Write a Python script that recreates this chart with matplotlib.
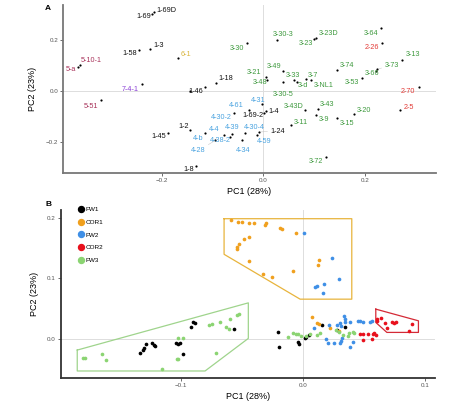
import matplotlib
matplotlib.use("Agg")
import matplotlib.pyplot as plt
from matplotlib.lines import Line2D

plt.rcParams['font.family'] = ['Liberation Sans', 'DejaVu Sans']

# ---- panel A: labelled PCA scores ----
a_labels = ['1-69D', '1-69', '1-3', '1-58', '6-1', '5-10-1', '5-a', '7-4-1', '1-46', '',
            '1-18', '5-51', '3-30', '3-30-3', '3-23D', '3-23', '3-64', '2-26', '3-13', '3-73',
            '3-66', '3-53', '3-74', '3-49', '3-21', '3-48', '3-30-5', '3-33', '3-7', '3-d',
            '3-NL1', '2-70', '2-5', '3-20', '3-43D', '3-43', '3-9', '3-15', '3-11', '3-72',
            '1-4', '1-69-2', '1-24', '4-30-4', '4-59', '4-34', '4-39', '4-4', '4-38-2', '4-b',
            '4-28', '4-30-2', '4-61', '4-31', '1-2', '1-45', '1-8']
a_group = ['1', '1', '1', '1', '6', '5', '5', '7', '1', '1',
           '1', '5', '3', '3', '3', '3', '3', '2', '3', '3',
           '3', '3', '3', '3', '3', '3', '3', '3', '3', '3',
           '3', '2', '2', '3', '3', '3', '3', '3', '3', '3',
           '1', '1', '1', '4', '4', '4', '4', '4', '4', '4',
           '4', '4', '4', '4', '1', '1', '1']
a_pc1 = [-0.215, -0.219, -0.222, -0.245, -0.168, -0.360, -0.364, -0.239, -0.145, -0.115,
         -0.092, -0.319, -0.032, 0.027, 0.104, 0.100, 0.232, 0.234, 0.274, 0.224,
         0.222, 0.195, 0.145, 0.039, 0.006, 0.008, 0.039, 0.061, 0.085, 0.066,
         0.094, 0.306, 0.270, 0.179, 0.083, 0.107, 0.104, 0.146, 0.055, 0.123,
         0.006, 0.002, -0.009, -0.035, -0.012, -0.042, -0.062, -0.077, -0.065, -0.114,
         -0.094, -0.058, -0.028, -0.002, -0.144, -0.188, -0.132]
a_pc2 = [0.309, 0.302, 0.165, 0.161, 0.131, 0.102, 0.094, 0.027, 0.002, 0.017,
         0.033, -0.036, 0.189, 0.200, 0.209, 0.202, 0.248, 0.189, 0.122, 0.085,
         0.080, 0.052, 0.082, 0.078, 0.054, 0.045, 0.035, 0.043, 0.048, 0.037,
         0.043, 0.015, -0.075, -0.090, -0.075, -0.068, -0.094, -0.107, -0.133, -0.258,
         -0.076, -0.086, -0.160, -0.164, -0.170, -0.192, -0.169, -0.173, -0.178, -0.165,
         -0.192, -0.087, -0.072, -0.051, -0.153, -0.162, -0.293]

# label placement (pixels from the point), like ggrepel put them
a_offsets = {
    '1-69D': (12, 1.6), '1-69': (-8, -2.7), '1-3': (8, 3), '1-58': (-9.4, -4),
    '6-1': (7.6, 2.7), '5-10-1': (11.3, 5), '5-a': (-7, -2.3), '7-4-1': (-11.4, -5.3),
    '1-46': (6, -1.2), '1-18': (9.7, 3.7), '5-51': (-10.4, -5.7), '3-30': (-9.7, -5.6),
    '3-30-3': (6.6, 5), '3-23D': (12.3, 4.4), '3-23': (-8, -3.8), '3-64': (-10, -5.6),
    '2-26': (-10, -5), '3-13': (10.5, 5), '3-73': (14.5, 4.3), '3-66': (-4, -3),
    '3-53': (-10, -5), '3-74': (10, 4.3), '3-49': (-9.4, 5), '3-21': (-11.8, 4.6),
    '3-48': (-7, -3.2), '3-30-5': (0, -12), '3-33': (-1, 5), '3-7': (7, 3.7),
    '3-d': (6, -4), '3-NL1': (13, -5.7), '2-70': (-10.4, -4.7), '2-5': (8, 2.7),
    '3-20': (9.7, 3.3), '3-43D': (-12, 4.3), '3-43': (9.7, 4.3), '3-9': (7.7, -4.3),
    '3-15': (9.7, -5), '3-11': (9.3, 2.7), '3-72': (-10.2, -4.3), '1-4': (7.5, -0.6),
    '1-69-2': (-11.7, -2.7), '1-24': (19, 1), '4-30-4': (8.5, 6), '4-59': (6.6, -6.4),
    '4-34': (1.6, -10), '4-39': (0.4, 6.7), '4-4': (-9.7, 5.7), '4-38-2': (-9.5, -3.5),
    '4-b': (-6.7, -4.7), '4-28': (-17.3, -10.7), '1-2': (-6.7, 3.3), '1-45': (-9.4, -4.4),
    '1-8': (-7.7, -3.3), '4-30-2': (-12.5, -4), '4-61': (-12.3, 4.3), '4-31': (-3.7, 4),
}
a_colors = {'1': '#111111', '2': '#e23a36', '3': '#3f9a3f', '4': '#4aa3e0',
            '5': '#a8325a', '6': '#d9b53c', '7': '#8a3fd6'}

# ---- panel B: groups ----
fw1_x = [-0.1336, -0.1308, -0.1300, -0.1286, -0.1234, -0.1221, -0.1212, -0.1040, -0.1021, -0.1007,
         -0.0985, -0.0920, -0.0903, -0.0884, -0.0561, -0.0200, -0.0192, -0.0041, -0.0030, 0.0019,
         0.0027, 0.0055, 0.0156, 0.0279, 0.0348]
fw1_y = [-0.0245, -0.0190, -0.0162, -0.0096, -0.0080, -0.0107, -0.0124, -0.0080, -0.0091, -0.0080,
         -0.0256, 0.0184, 0.0267, 0.0250, 0.0157, 0.0113, -0.0135, -0.0063, -0.0091, 0.0003,
         0.0030, 0.0058, 0.0223, 0.0140, 0.0184]

cor1_x = [-0.0589, -0.0529, -0.0501, -0.0441, -0.0400, -0.0301, -0.0310, -0.0186, -0.0167, -0.0057,
          -0.0441, -0.0482, -0.0523, -0.0537, -0.0542, -0.0441, -0.0328, -0.0250, -0.0082, 0.0136,
          0.0128, 0.0079, 0.0120, 0.0137, 0.0224, 0.0293]
cor1_y = [0.1967, 0.1922, 0.1922, 0.1917, 0.1917, 0.1917, 0.1873, 0.1828, 0.1818, 0.1752,
          0.1686, 0.1642, 0.1563, 0.1510, 0.1477, 0.1279, 0.1076, 0.1015, 0.1119, 0.1307,
          0.1213, 0.0349, 0.0250, 0.0234, 0.0168, 0.0129]

fw2_x = [0.0011, 0.0238, 0.0298, 0.0177, 0.0120, 0.0101, 0.0169, 0.0096, 0.0211, 0.0279,
         0.0307, 0.0342, 0.0348, 0.0348, 0.0389, 0.0452, 0.0471, 0.0493, 0.0553, 0.0567,
         0.0192, 0.0205, 0.0260, 0.0307, 0.0320, 0.0315, 0.0389, 0.0411, 0.0315]
fw2_y = [0.1752, 0.1340, 0.0982, 0.0911, 0.0866, 0.0855, 0.0746, 0.0179, 0.0223, 0.0223,
         0.0250, 0.0371, 0.0316, 0.0278, 0.0278, 0.0289, 0.0289, 0.0278, 0.0278, 0.0289,
         -0.0014, -0.0080, -0.0080, -0.0069, 0.0003, -0.0041, -0.0135, -0.0052, 0.0206]

cor2_x = [0.0471, 0.0493, 0.0531, 0.0493, 0.0567, 0.0580, 0.0588, 0.0602, 0.0608, 0.0608,
          0.0643, 0.0676, 0.0695, 0.0736, 0.0750, 0.0766, 0.0868, 0.0895]
cor2_y = [0.0069, 0.0069, 0.0074, -0.0025, -0.0008, 0.0074, 0.0096, 0.0058, 0.0294, 0.0316,
          0.0333, 0.0250, 0.0179, 0.0278, 0.0261, 0.0267, 0.0129, 0.0239]

fw3_x = [-0.1801, -0.1788, -0.1650, -0.1615, -0.1158, -0.1034, -0.1021, -0.1026, -0.0985, -0.0714,
         -0.0766, -0.0747, -0.0679, -0.0597, -0.0536, -0.0520, -0.0629, -0.0602,
         -0.0118, -0.0077, -0.0057, -0.0036, -0.0014, 0.0060, 0.0120, 0.0142, 0.0274, 0.0293,
         0.0334, 0.0367, 0.0380, 0.0408, 0.0424, 0.0027]
fw3_y = [-0.0316, -0.0327, -0.0256, -0.0355, -0.0498, -0.0344, -0.0333, 0.0003, 0.0003, -0.0245,
         0.0223, 0.0234, 0.0267, 0.0316, 0.0388, 0.0404, 0.0184, 0.0151,
         0.0030, 0.0085, 0.0074, 0.0069, 0.0047, 0.0074, 0.0058, 0.0096, 0.0140, 0.0113,
         0.0058, 0.0041, 0.0096, 0.0113, 0.0085, 0.0047]

# hull outlines around the separated clusters
hull_cor1_x = [-0.0646, 0.0402, 0.0402, -0.0022, -0.0646, -0.0646]
hull_cor1_y = [0.1983, 0.1983, 0.0652, 0.0652, 0.1394, 0.1983]
hull_fw3_x = [-0.1851, -0.0447, -0.0447, -0.0802, -0.1851, -0.1851]
hull_fw3_y = [-0.0190, 0.0591, 0.0003, -0.0536, -0.0536, -0.0190]
hull_cor2_x = [0.0599, 0.0949, 0.0949, 0.0690, 0.0599, 0.0599]
hull_cor2_y = [0.0487, 0.0294, 0.0102, 0.0102, 0.0267, 0.0487]

groups_b = [('FW1', fw1_x, fw1_y, '#000000'),
            ('COR1', cor1_x, cor1_y, '#f0a01e'),
            ('FW2', fw2_x, fw2_y, '#3f8fe6'),
            ('COR2', cor2_x, cor2_y, '#e8101c'),
            ('FW3', fw3_x, fw3_y, '#8bd472')]

fig = plt.figure(figsize=(4.74, 4.08), dpi=100)
axA = fig.add_axes([0.1329, 0.576, 0.787, 0.412])
axB = fig.add_axes([0.128, 0.0728, 0.790, 0.4125])

def style_axes(ax, spine_col):
    for s in ['top', 'right']:
        ax.spines[s].set_visible(False)
    for s in ['left', 'bottom']:
        ax.spines[s].set_color(spine_col)
        ax.spines[s].set_linewidth(1.3)
    ax.tick_params(length=2, width=0.6, colors='#555555', labelsize=4.5, pad=1.5)
    ax.axhline(0, color='#dddddd', lw=0.7, zorder=0)
    ax.axvline(0, color='#dddddd', lw=0.7, zorder=0)
    ax.set_xlabel('PC1 (28%)', fontsize=6.5, labelpad=3)
    ax.set_ylabel('PC2 (23%)', fontsize=6.5, labelpad=6)

# panel A
style_axes(axA, '#777777')
axA.set_xlim(-0.394, 0.34)
axA.set_ylim(-0.32, 0.337)
axA.set_xticks([-0.2, 0.0, 0.2])
axA.set_yticks([-0.2, 0.0, 0.2])
axA.scatter(a_pc1, a_pc2, s=2.5, color='black', zorder=3, linewidths=0)
for lab, g, x, y in zip(a_labels, a_group, a_pc1, a_pc2):
    if not lab:
        continue
    dx, dy = a_offsets[lab]
    arrow = None
    if (dx * dx + dy * dy) ** 0.5 > 15:
        arrow = dict(arrowstyle='-', lw=0.3, color='#bbbbbb', shrinkA=0, shrinkB=1)
    axA.annotate(lab, (x, y), xytext=(dx, dy), textcoords='offset pixels',
                 ha='center', va='center', fontsize=5.2, color=a_colors[g],
                 arrowprops=arrow)
fig.text(45 / 474, 1 - 9 / 408, 'A', fontsize=6, fontweight='bold', ha='left', va='center')

# panel B
style_axes(axB, '#333333')
axB.set_xlim(-0.1987, 0.1086)
axB.set_ylim(-0.0657, 0.2127)
axB.set_xticks([-0.1, 0.0, 0.1])
axB.set_yticks([0.0, 0.1, 0.2])
axB.plot(hull_cor1_x, hull_cor1_y, color='#e8b43c', lw=0.9)
axB.plot(hull_fw3_x, hull_fw3_y, color='#9fd48c', lw=0.9)
axB.plot(hull_cor2_x, hull_cor2_y, color='#d42a36', lw=0.9)
handles = []
for name, xs, ys, col in groups_b:
    axB.scatter(xs, ys, s=7, color=col, linewidths=0, zorder=3)
    handles.append(Line2D([], [], marker='o', ls='', color=col, markersize=4.3, label=name))
axB.legend(handles=handles, loc='upper left', bbox_to_anchor=(0.035, 1.04), frameon=False,
           fontsize=4.6, handletextpad=0.1, labelspacing=1.15, borderpad=0, handlelength=1.2)
fig.text(45 / 474, 1 - 205 / 408, 'B', fontsize=6, fontweight='bold', ha='left', va='center')

fig.savefig('out.png', dpi=100)
